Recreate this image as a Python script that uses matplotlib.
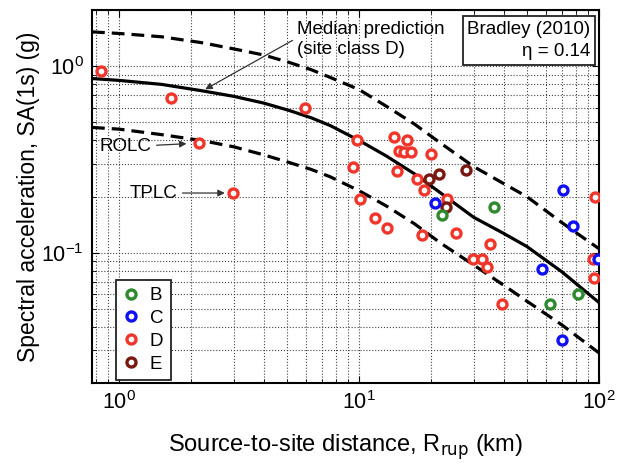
import matplotlib.pyplot as plt
from matplotlib.lines import Line2D

# prediction curves (Bradley 2010, site class D)
dist = [0.77, 1.0, 1.5, 2.2, 3.0, 4.0, 5.1, 6.3, 7.6, 10, 13, 17, 22, 30, 40, 50, 70, 100]
median = [0.86, 0.84, 0.80, 0.74, 0.69, 0.635, 0.58, 0.53, 0.48, 0.40, 0.33, 0.265, 0.208,
          0.155, 0.127, 0.108, 0.079, 0.054]
upper = [1.53, 1.50, 1.44, 1.34, 1.24, 1.15, 1.05, 0.96, 0.87, 0.75, 0.61, 0.49, 0.385,
         0.29, 0.235, 0.20, 0.145, 0.105]
lower = [0.47, 0.46, 0.43, 0.40, 0.37, 0.335, 0.305, 0.28, 0.255, 0.215, 0.178, 0.143, 0.112,
         0.086, 0.067, 0.055, 0.041, 0.029]

# observations by site class
b_r = [22.2, 36.5, 81.5, 62.5]
b_sa = [0.159, 0.175, 0.060, 0.053]
c_r = [20.7, 71.0, 77.6, 98.7, 58.1, 69.8]
c_sa = [0.185, 0.218, 0.139, 0.092, 0.082, 0.034]
d_r = [0.84, 1.64, 2.16, 2.98, 5.94, 9.78, 14.0, 15.9, 14.6, 15.4, 16.5, 19.9, 9.41,
       14.4, 17.4, 18.7, 10.1, 23.3, 11.7, 13.1, 18.3, 25.3, 96.2, 35.0, 29.9, 32.6,
       34.2, 94.1, 95.6, 39.5]
d_sa = [0.94, 0.68, 0.39, 0.209, 0.60, 0.40, 0.42, 0.40, 0.35, 0.347, 0.347, 0.34, 0.29,
        0.274, 0.25, 0.216, 0.195, 0.195, 0.154, 0.136, 0.124, 0.128, 0.198, 0.111, 0.093,
        0.093, 0.084, 0.093, 0.073, 0.053]
e_r = [19.5, 21.6, 27.8, 23.1]
e_sa = [0.25, 0.264, 0.279, 0.176]

colors = {"B": "#2e8a2e", "C": "#1010f5", "D": "#f0352a", "E": "#7a1810"}

plt.rcParams["font.family"] = ["Liberation Sans", "DejaVu Sans"]

fig = plt.figure(figsize=(6.19, 4.63), dpi=100)
ax = fig.add_axes([0.1486, 0.1728, 0.8191, 0.8052])

ax.plot(dist, median, color="black", lw=2.3, zorder=3)
ax.plot(dist, upper, color="black", lw=2.3, dashes=(4, 2.2), zorder=3)
ax.plot(dist, lower, color="black", lw=2.3, dashes=(4, 2.2), zorder=3)

mk = dict(linestyle="none", marker="o", markersize=6.5, markeredgewidth=2.4,
          markerfacecolor="white", zorder=4)
ax.plot(d_r, d_sa, markeredgecolor=colors["D"], **mk)
ax.plot(e_r, e_sa, markeredgecolor=colors["E"], **mk)
ax.plot(b_r, b_sa, markeredgecolor=colors["B"], **mk)
ax.plot(c_r, c_sa, markeredgecolor=colors["C"], **mk)

ax.set_xscale("log")
ax.set_yscale("log")
ax.set_xlim(0.77, 100)
ax.set_ylim(0.02, 2)

ax.grid(True, which="both", linestyle=":", color="#444444", linewidth=0.8)
ax.tick_params(which="both", direction="in", top=True, right=True, labelsize=15.5)
ax.tick_params(which="major", length=5, pad=6)
ax.tick_params(which="minor", length=3)
for s in ax.spines.values():
    s.set_linewidth(1.5)

ax.set_xlabel("Source-to-site distance, R$_{\\mathrm{rup}}$ (km)", fontsize=17, labelpad=13)
ax.set_ylabel("Spectral acceleration, SA(1s) (g)", fontsize=16.5, labelpad=1)

# annotations
arrow = dict(arrowstyle="-|>", color="#333333", lw=0.9, mutation_scale=10)
ax.text(5.5, 1.74, "Median prediction\n(site class D)", fontsize=13.5, ha="left", va="top",
        linespacing=1.2, zorder=5)
ax.annotate("", xy=(2.23, 0.74), xytext=(5.4, 1.40), arrowprops=arrow)
ax.annotate("ROLC", xy=(1.96, 0.385), xytext=(0.825, 0.37), fontsize=13.5, ha="left",
            va="center", arrowprops=arrow)
ax.annotate("TPLC", xy=(2.83, 0.209), xytext=(1.10, 0.209), fontsize=13.5, ha="left",
            va="center", arrowprops=arrow)

ax.text(0.983, 0.972, "Bradley (2010)\n\u03b7 = 0.14", transform=ax.transAxes,
        ha="right", va="top", fontsize=13.5, linespacing=1.45, zorder=5,
        bbox=dict(boxstyle="square,pad=0.25", facecolor="white", edgecolor="#222222", lw=1.3))

handles = [Line2D([], [], markeredgecolor=colors[k], label=k, **mk) for k in ["B", "C", "D", "E"]]
leg = ax.legend(handles=handles, loc="lower left", bbox_to_anchor=(0.047, 0.008), fontsize=13.5,
                handlelength=0.8, handletextpad=0.6, borderpad=0.4, labelspacing=0.3,
                borderaxespad=0, fancybox=False, framealpha=1, edgecolor="#222222")
leg.get_frame().set_linewidth(1.3)

fig.savefig("out.png", dpi=100)
